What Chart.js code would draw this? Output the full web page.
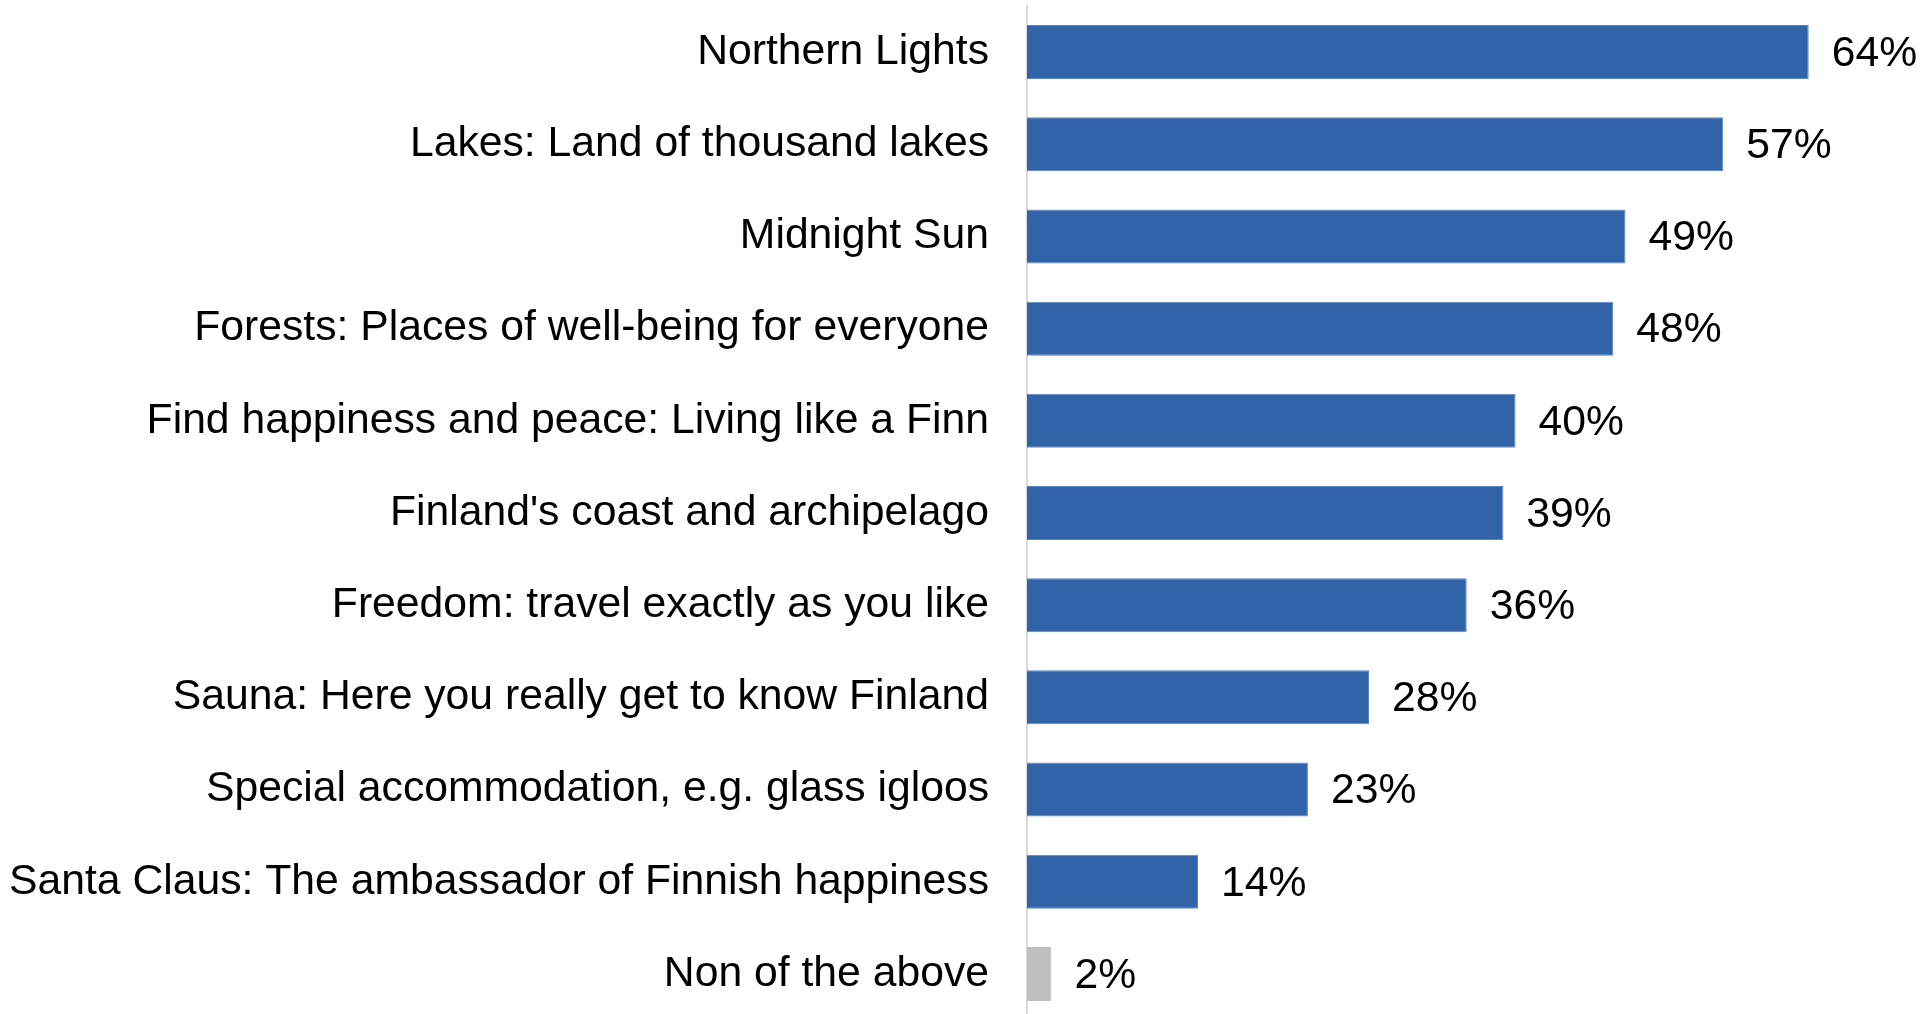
<!DOCTYPE html>
<html>
<head>
<meta charset="utf-8">
<title>Finland themes</title>
<script src="https://cdn.jsdelivr.net/npm/chart.js@4/dist/chart.umd.min.js"></script>
<style>
  html, body { margin: 0; padding: 0; background: #ffffff; overflow: hidden; }
  #wrap { position: relative; width: 1924px; height: 1020px; }
</style>
</head>
<body>
<div id="wrap"><canvas id="chart"></canvas></div>
<script>
// Survey answers, top to bottom
const categories = [
  "Northern Lights",
  "Lakes: Land of thousand lakes",
  "Midnight Sun",
  "Forests: Places of well-being for everyone",
  "Find happiness and peace: Living like a Finn",
  "Finland's coast and archipelago",
  "Freedom: travel exactly as you like",
  "Sauna: Here you really get to know Finland",
  "Special accommodation, e.g. glass igloos",
  "Santa Claus: The ambassador of Finnish happiness",
  "Non of the above"
];
const shares = [64, 57, 49, 48, 40, 39, 36, 28, 23, 14, 2];
const barColors = ["#3163A8", "#3163A8", "#3163A8", "#3163A8", "#3163A8", "#3163A8",
                   "#3163A8", "#3163A8", "#3163A8", "#3163A8", "#BFBFBF"];
const edgeColors = ["#5B86C3", "#5B86C3", "#5B86C3", "#5B86C3", "#5B86C3", "#5B86C3",
                    "#5B86C3", "#5B86C3", "#5B86C3", "#5B86C3", "#BFBFBF"];

const FONT = "'Liberation Sans', Arial, sans-serif";
const FONT_SIZE = 42.7;

// Percentage labels at the end of each bar
const valueLabels = {
  id: "valueLabels",
  afterDatasetsDraw(chart) {
    const ctx = chart.ctx;
    const meta = chart.getDatasetMeta(0);
    ctx.save();
    ctx.font = FONT_SIZE + "px " + FONT;
    ctx.fillStyle = "#000000";
    ctx.textAlign = "left";
    ctx.textBaseline = "middle";
    meta.data.forEach((bar, i) => {
      ctx.fillText(shares[i] + "%", bar.x + 23, bar.y + 2);
    });
    ctx.restore();
  }
};

new Chart(document.getElementById("chart"), {
  type: "bar",
  data: {
    labels: categories,
    datasets: [{
      data: shares,
      backgroundColor: barColors,
      borderColor: edgeColors,
      borderWidth: 1,
      borderSkipped: "left",
      barPercentage: 0.586,
      categoryPercentage: 1.0
    }]
  },
  options: {
    indexAxis: "y",
    responsive: true,
    maintainAspectRatio: false,
    animation: false,
    layout: { padding: { top: 6, right: 42, bottom: 0, left: 0 } },
    plugins: {
      legend: { display: false },
      tooltip: { enabled: false }
    },
    scales: {
      x: {
        display: false,
        min: 0,
        max: 70
      },
      y: {
        afterFit(scale) {
          // fixed label column; bands span the whole height
          scale.width = 1027;
          scale.paddingTop = 0;
          scale.paddingBottom = 0;
        },
        grid: { display: false, drawTicks: false },
        border: { display: true, color: "#D9D9D9", width: 2 },
        ticks: {
          padding: 38,
          color: "#000000",
          font: { family: FONT, size: FONT_SIZE }
        }
      }
    }
  },
  plugins: [valueLabels]
});
</script>
</body>
</html>
